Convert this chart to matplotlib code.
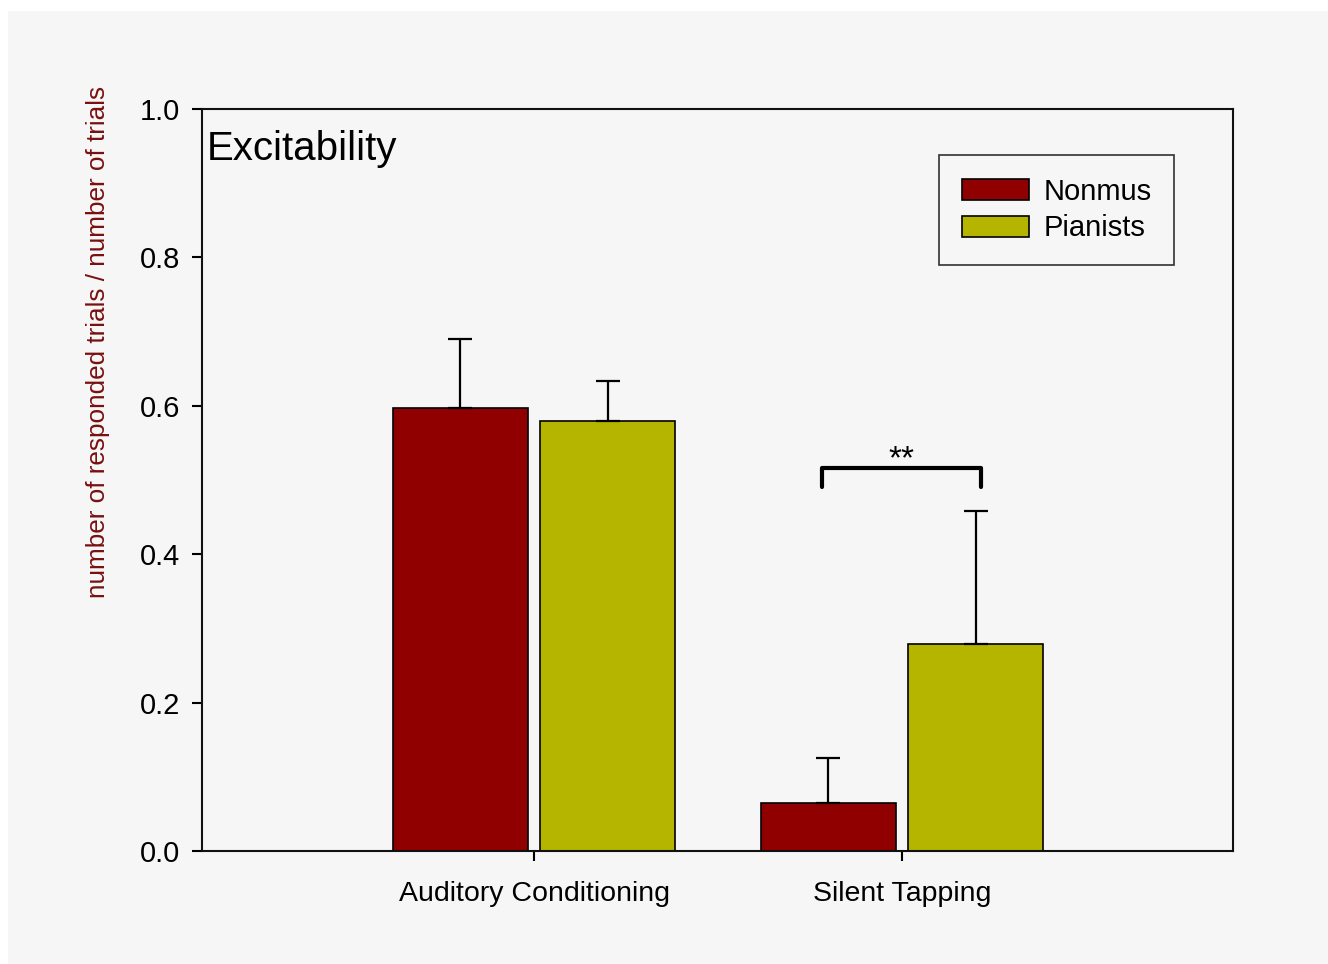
import matplotlib
matplotlib.use("Agg")
import matplotlib.pyplot as plt
from matplotlib.patches import Rectangle
import numpy as np

categories = ["Auditory Conditioning", "Silent Tapping"]
groups = ["Nonmus", "Pianists"]
nonmus_mean = [0.597, 0.065]
nonmus_err = [0.093, 0.061]
pianists_mean = [0.580, 0.279]
pianists_err = [0.053, 0.179]
y_ticks = [0.0, 0.2, 0.4, 0.6, 0.8, 1.0]

plt.rcParams['font.family'] = ['Liberation Sans', 'DejaVu Sans']

W, H, DPI = 1328, 964, 100
fig = plt.figure(figsize=(W / DPI, H / DPI), dpi=DPI, facecolor='white')
bg = '#f6f6f6'
fig.patches.append(Rectangle((8 / W, 0), 1 - 8 / W, 1 - 11 / H, transform=fig.transFigure,
                             facecolor=bg, edgecolor='none', zorder=-10))

left, right, top, bottom = 202, 1233, 109, 851
ax = fig.add_axes([left / W, 1 - bottom / H, (right - left) / W, (bottom - top) / H])
ax.set_facecolor(bg)

x = np.array([1.0, 2.0])
width = 0.367
off = 0.2
c_non = '#900000'
c_pia = '#b5b500'
ekw = dict(elinewidth=1.6, capthick=1.6, ecolor='black')
ax.bar(x - off, nonmus_mean, width, color=c_non, edgecolor='black', linewidth=1.2,
       yerr=[np.zeros(2), nonmus_err], capsize=8.5, error_kw=ekw, label=groups[0], zorder=2)
ax.bar(x + off, pianists_mean, width, color=c_pia, edgecolor='black', linewidth=1.2,
       yerr=[np.zeros(2), pianists_err], capsize=8.5, error_kw=ekw, label=groups[1], zorder=2)

ax.set_xlim(0.098, 2.899)
ax.set_ylim(0, 1.0)
ax.set_xticks(x)
ax.set_xticklabels(categories, fontsize=20.5)
ax.set_yticks(y_ticks)
ax.set_yticklabels([f"{v:.1f}" for v in y_ticks], fontsize=21)
ax.tick_params(axis='both', direction='out', length=7.5, width=1.5, colors='black')
ax.tick_params(axis='y', pad=8)
ax.tick_params(axis='x', pad=14)
for s in ax.spines.values():
    s.set_linewidth(1.5)
    s.set_color('#111111')

ax.set_ylabel("number of responded trials / number of trials", fontsize=18.8,
              color='#7a1010')
ax.yaxis.set_label_coords(-0.089, 0.686)

ax.text(0.005, 0.946, "Excitability", transform=ax.transAxes, fontsize=29,
        ha='left', va='center')

# significance bracket
bx0, bx1 = 1.783, 2.215
by, bleg = 0.516, 0.491
ax.plot([bx0, bx0, bx1, bx1], [bleg, by, by, bleg], color='black', linewidth=3,
        solid_capstyle='round', solid_joinstyle='round', zorder=3)
ax.text((bx0 + bx1) / 2, 0.527, "**", ha='center', va='center', fontsize=24)

leg = ax.legend(loc='upper left', bbox_to_anchor=((939 - left) / (right - left), 1 - (155 - top) / (bottom - top)),
                fontsize=21, frameon=True, fancybox=False, edgecolor='black',
                handlelength=2.3, handleheight=0.75, borderpad=0.78, labelspacing=0.3,
                handletextpad=0.5, borderaxespad=0)
leg.get_frame().set_linewidth(1.2)
leg.get_frame().set_facecolor(bg)

fig.savefig("out.png", dpi=DPI, facecolor=fig.get_facecolor())
